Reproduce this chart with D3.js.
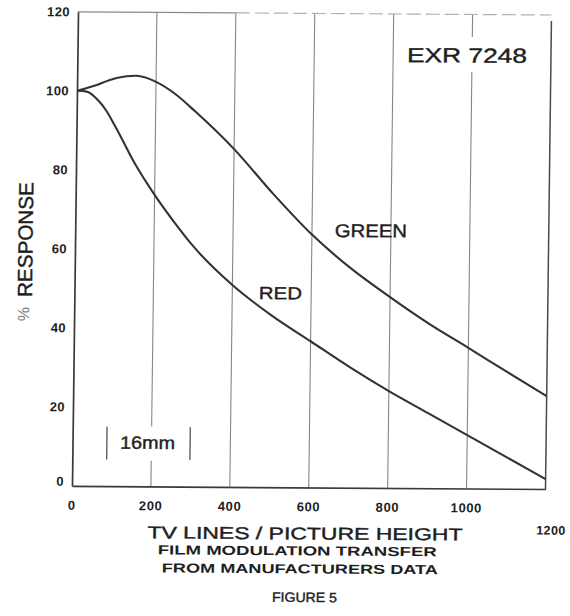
<!DOCTYPE html>
<html>
<head>
<meta charset="utf-8">
<script src="https://cdn.jsdelivr.net/npm/d3@7"></script>
<style>
  html, body { margin: 0; padding: 0; background: #ffffff; }
  svg { display: block; }
  text { font-family: "Liberation Sans", Arial, Helvetica, sans-serif; fill: #1e1e1e; }
</style>
</head>
<body>
<svg id="chart" width="570" height="616"></svg>
<script>
// ---- data ----
const tvLines   = [0, 25, 50, 75, 100, 150, 200, 250, 300, 400, 500, 600, 700, 800, 900, 1000, 1100, 1200];
const greenResp = [100, 100.7, 101.5, 102.5, 103.3, 103.9, 102.4, 99.3, 95, 85.5, 74.3, 64, 55.5, 48.3, 41.6, 35.6, 29.5, 23.5];
const redResp   = [100, 99.8, 98, 95, 90.7, 81.5, 73.8, 67, 60.8, 51.1, 43.5, 37, 30.5, 24.5, 19, 13.5, 8, 2.5];
const xTicks    = [0, 200, 400, 600, 800, 1000];
const xTickLast = 1200;
const yTicks    = [0, 20, 40, 60, 80, 100, 120];
const xDomain   = [0, 1200];
const yDomain   = [0, 120];
const filmLabel = "EXR 7248";
const seriesLabels = ["GREEN", "RED"];
const markerText = "16mm";
const markerRange = [87, 298];     // TV lines
const markerSpan  = [6.7, 15];     // % response

// ---- layout ----
const svg = d3.select("#chart");
const root = svg.append("g")
  .attr("transform", "matrix(1,0.0068,-0.0127,1,3.175,-2.12)");

const x = d3.scaleLinear().domain(xDomain).range([75, 548.5]);
const y = d3.scaleLinear().domain(yDomain).range([487.4, 13.4]);

const gridCol = "#858585";

// vertical gridlines (with gaps around annotations)
const gaps = {
  200: [y(markerSpan[1]) - 0.5, y(markerSpan[0]) + 1],
  1000: [35.9, 70.9]
};
xTicks.filter(d => d > 0).forEach(d => {
  const g = gaps[d];
  const segs = g ? [[y(120), g[0]], [g[1], y(0)]] : [[y(120), y(0)]];
  segs.forEach(s => root.append("line").attr("x1", x(d)).attr("x2", x(d))
    .attr("y1", s[0]).attr("y2", s[1])
    .attr("stroke", gridCol).attr("stroke-width", 1.1));
});

// top border (solid then dashed, faint as in the scan)
root.append("line").attr("x1", x(0)).attr("x2", x(400)).attr("y1", y(120)).attr("y2", y(120))
  .attr("stroke", "#8a8a8a").attr("stroke-width", 1.2);
root.append("line").attr("x1", x(400)).attr("x2", x(1200)).attr("y1", y(120)).attr("y2", y(120))
  .attr("stroke", "#b0b0b0").attr("stroke-width", 1.2).attr("stroke-dasharray", "14,5");

// right border
root.append("line").attr("x1", x(1200)).attr("x2", x(1200)).attr("y1", y(118.5)).attr("y2", y(0))
  .attr("stroke", "#4a4a4a").attr("stroke-width", 1.5);

// left & bottom axes via d3 axis (lines only), labels separately
const yAxis = d3.axisLeft(y).tickValues(yTicks).tickSize(0).tickFormat("");
root.append("g").attr("transform", `translate(${x(0)},0)`).call(yAxis)
  .call(g => g.select(".domain").attr("stroke", "#3a3a3a").attr("stroke-width", 1.7));
const xAxis = d3.axisBottom(x).tickValues(xTicks).tickSize(0).tickFormat("");
root.append("g").attr("transform", `translate(0,${y(0)})`).call(xAxis)
  .call(g => g.select(".domain").attr("stroke", "#3a3a3a").attr("stroke-width", 1.7));

// y tick labels
root.selectAll(".ylab").data(yTicks).enter().append("text")
  .attr("x", 67).attr("y", d => y(d) + (d === 0 ? 0 : 4.6))
  .attr("text-anchor", "end").attr("font-size", 13).attr("font-weight", "bold")
  .attr("letter-spacing", 0.4)
  .text(d => d);

// x tick labels
root.selectAll(".xlab").data(xTicks).enter().append("text")
  .attr("x", d => x(d)).attr("y", 511.3)
  .attr("text-anchor", "middle").attr("font-size", 13).attr("font-weight", "bold")
  .attr("letter-spacing", 0.6)
  .text(d => d);
root.append("text").attr("x", x(xTickLast) + 6).attr("y", 533)
  .attr("text-anchor", "middle").attr("font-size", 12.5).attr("font-weight", "bold")
  .attr("letter-spacing", 0.4)
  .text(xTickLast);

// curves
const line = d3.line().x(d => x(d[0])).y(d => y(d[1])).curve(d3.curveMonotoneX);
[greenResp, redResp].forEach(s => {
  root.append("path").datum(tvLines.map((t, i) => [t, s[i]]))
    .attr("d", line).attr("fill", "none")
    .attr("stroke", "#333333").attr("stroke-width", 2.1).attr("stroke-linejoin", "round");
});

// 16mm marker
markerRange.forEach(m => {
  root.append("line").attr("x1", x(m)).attr("x2", x(m))
    .attr("y1", y(markerSpan[1])).attr("y2", y(markerSpan[0]))
    .attr("stroke", "#555").attr("stroke-width", 1.3);
});

function label(txt, cx, base, size, len, weight, extra) {
  const t = root.append("text").attr("x", cx).attr("y", base)
    .attr("text-anchor", "middle").attr("font-size", size)
    .attr("font-weight", weight || "normal")
    .attr("textLength", len).attr("lengthAdjust", "spacingAndGlyphs")
    .text(txt);
  if (extra) extra(t);
  return t;
}
const thick = t => t.attr("stroke", "#1e1e1e").attr("stroke-width", 0.4);

label(markerText, 150, 450, 18, 55, "normal", thick);
label(filmLabel, 464.5, 61.5, 20.5, 120, "normal", thick);
label(seriesLabels[0], 370.7, 236.8, 18.5, 72, "normal", thick);
label(seriesLabels[1], 281, 299.4, 17.5, 43, "normal", thick);

// axis titles and captions
label("TV LINES / PICTURE HEIGHT", 308.6, 539.4, 17, 315, "normal", thick);
label("FILM MODULATION TRANSFER", 301.1, 555.4, 13, 279, "bold");
label("FROM MANUFACTURERS DATA", 303.9, 573.4, 13, 276, "bold");
label("FIGURE 5", 308.9, 602, 13.5, 65, "normal", thick);

// y title
root.append("text")
  .attr("transform", "translate(32.5,241.5) rotate(-90)")
  .attr("text-anchor", "middle").attr("font-size", 20.5)
  .attr("textLength", 115).attr("lengthAdjust", "spacingAndGlyphs")
  .attr("stroke", "#1e1e1e").attr("stroke-width", 0.4)
  .text("RESPONSE");
root.append("text")
  .attr("transform", "translate(30,316) rotate(-90)")
  .attr("text-anchor", "middle").attr("font-size", 16)
  .style("fill", "#7a7a7a")
  .text("%");
</script>
</body>
</html>
